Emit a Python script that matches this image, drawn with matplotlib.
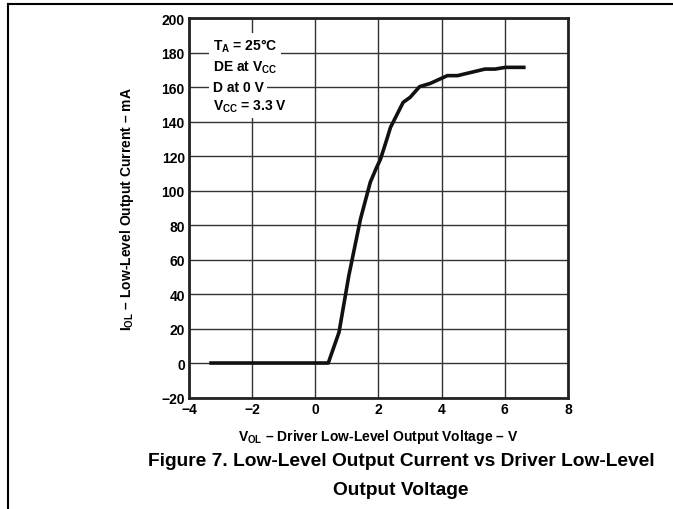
import matplotlib
matplotlib.use('Agg')
import matplotlib.pyplot as plt
from matplotlib.lines import Line2D

plt.rcParams['font.family'] = ['Liberation Sans', 'DejaVu Sans']
plt.rcParams['font.weight'] = 'bold'
plt.rcParams['mathtext.fontset'] = 'custom'
plt.rcParams['mathtext.rm'] = 'Liberation Sans:bold'
plt.rcParams['mathtext.bf'] = 'Liberation Sans:bold'
plt.rcParams['mathtext.default'] = 'rm'

vol = [-3.3, 0.41, 0.75, 1.06, 1.43, 1.74, 1.94, 2.06, 2.25, 2.38, 2.78, 3.0,
       3.3, 3.64, 4.18, 4.5, 5.37, 5.69, 6.02, 6.6]
iol = [0, 0, 17.8, 50.6, 83.5, 104.8, 113.4, 118, 128.9, 136.6, 151.1, 154,
       160.2, 162.1, 166.6, 166.6, 170.4, 170.4, 171.4, 171.4]

xticks = [-4, -2, 0, 2, 4, 6, 8]
yticks = [-20, 0, 20, 40, 60, 80, 100, 120, 140, 160, 180, 200]
xtick_labels = ['\u22124', '\u22122', '0', '2', '4', '6', '8']
ytick_labels = ['\u221220'] + [str(v) for v in yticks[1:]]

conditions = [r'T$_A$ = 25°C', r'DE at V$_{CC}$', 'D at 0 V', r'V$_{CC}$ = 3.3 V']
cond_y = [184, 172, 160, 149]

title_lines = ['Figure 7. Low-Level Output Current vs Driver Low-Level', 'Output Voltage']

fig = plt.figure(figsize=(6.73, 5.10), dpi=100)
ax = fig.add_axes([0.2808, 0.2186, 0.5632, 0.7441])

ax.plot(vol, iol, color='#111111', linewidth=2.6, solid_joinstyle='round', zorder=3)

ax.set_xlim(-4, 8)
ax.set_ylim(-20, 200)
ax.set_xticks(xticks)
ax.set_yticks(yticks)
ax.set_xticklabels(xtick_labels, fontsize=10, fontweight='bold')
ax.set_yticklabels(ytick_labels, fontsize=10, fontweight='bold')
ax.tick_params(length=0, pad=3)
ax.grid(True, color='#333333', linewidth=1.0)
ax.set_axisbelow(True)
for s in ax.spines.values():
    s.set_linewidth(2.0)
    s.set_color('#222222')

ax.set_xlabel(r'V$_{OL}$ – Driver Low-Level Output Voltage – V', fontsize=10,
              fontweight='bold', labelpad=8)
ax.set_ylabel(r'I$_{OL}$ – Low-Level Output Current – mA', fontsize=10,
              fontweight='bold', labelpad=18)

for t, yy in zip(conditions, cond_y):
    ax.text(-3.25, yy, t, fontsize=10, fontweight='bold', ha='left', va='center',
            bbox=dict(facecolor='white', edgecolor='none', pad=2.5), zorder=4)

fig.text(0.596, 1 - 462 / 510, title_lines[0], ha='center', va='center',
         fontsize=13.8, fontweight='bold')
fig.text(0.596, 1 - 491 / 510, title_lines[1], ha='center', va='center',
         fontsize=13.8, fontweight='bold')

# page frame lines
fig.add_artist(Line2D([8 / 673, 1], [1 - 4.5 / 510, 1 - 4.5 / 510], color='black', linewidth=1.5,
                      transform=fig.transFigure))
fig.add_artist(Line2D([8 / 673, 8 / 673], [0, 1 - 4.5 / 510], color='black', linewidth=1.5,
                      transform=fig.transFigure))

fig.savefig('out.png', dpi=100)
